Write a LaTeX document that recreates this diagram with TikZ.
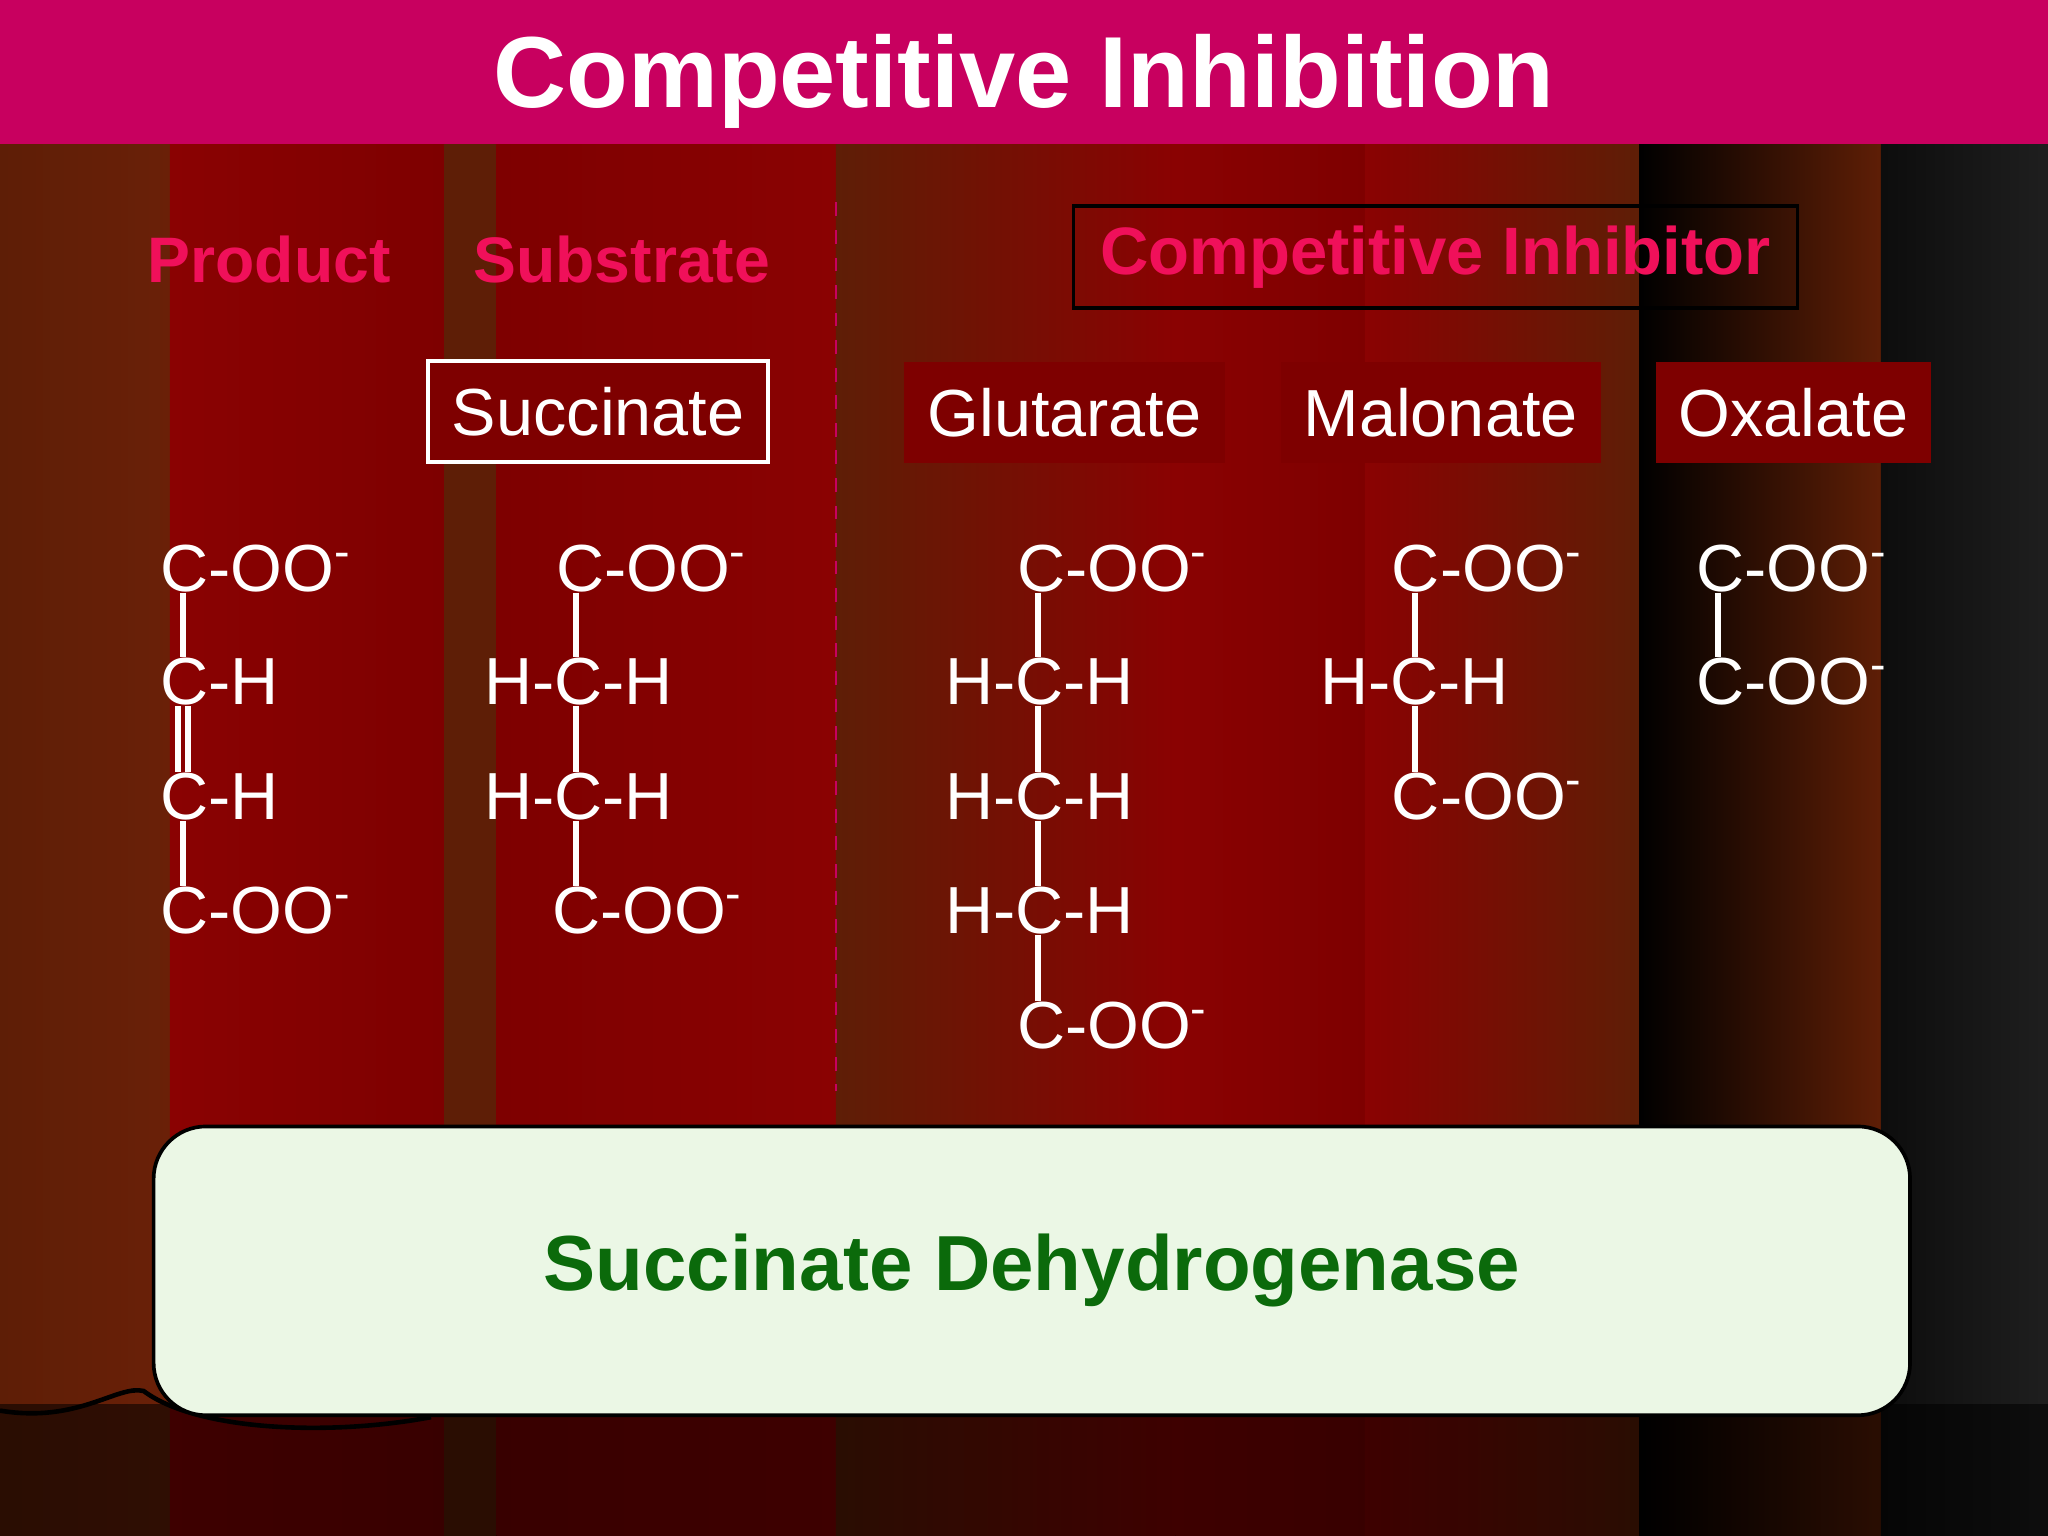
\documentclass[tikz,border=0pt]{standalone}
\usepackage{fontspec}
\setmainfont{Liberation Sans}
\usetikzlibrary{calc}
\definecolor{magbar}{HTML}{C8005F}
\definecolor{pinkt}{HTML}{F0105A}
\definecolor{dred}{HTML}{7E0000}
\definecolor{brn}{HTML}{5E1E06}
\definecolor{brn2}{HTML}{6A2008}
\definecolor{rd}{HTML}{8A0202}
\definecolor{pale}{HTML}{EBF7E5}
\definecolor{egreen}{HTML}{0B6A0B}
\tikzset{
 chem/.style={anchor=west,inner sep=0pt,text=white,font=\fontsize{14.5}{16}\selectfont},
 bond/.style={white,line width=1.3pt},
 lbl/.style={fill=dred,text=white,font=\fontsize{14.5}{16}\selectfont,minimum height=0.77cm,inner xsep=5pt},
 head/.style={text=pinkt,font=\bfseries\fontsize{14}{16}\selectfont},
}
\newcommand{\coo}{C-OO\textsuperscript{-}}
\begin{document}
\begin{tikzpicture}[x=0.01cm,y=-0.01cm]
\useasboundingbox (0,0) rectangle (1568,1176);
% curtain stripes
\fill[left color=brn,right color=brn2] (0,110) rectangle (130,1176);
\fill[left color=rd,right color=dred] (130,110) rectangle (340,1176);
\fill[brn] (340,110) rectangle (380,1176);
\fill[left color=dred,right color=rd] (380,110) rectangle (640,1176);
\fill[left color=brn,right color=rd] (640,110) rectangle (900,1176);
\fill[left color=rd,right color=dred] (900,110) rectangle (1045,1176);
\fill[left color=rd,right color=brn] (1045,110) rectangle (1255,1176);
\fill[left color=black,right color=brn] (1255,110) rectangle (1440,1176);
\fill[left color=black!95,right color=black!88] (1440,110) rectangle (1568,1176);
\fill[black,opacity=0.55] (0,1075) rectangle (1568,1176);
\draw[black,line width=1pt] (0,1080) .. controls (60,1090) and (90,1060) .. (110,1065) .. controls (150,1095) and (250,1100) .. (330,1085);
% title
\fill[magbar] (0,0) rectangle (1568,110);
\node[text=white,font=\bfseries\fontsize{22}{24}\selectfont] (title) at (784,62) {Competitive Inhibition};
% headings
\node[head] (prod) at (206,199) {Product};
\node[head] (subs) at (476,199) {Substrate};
\node[head,font=\bfseries\fontsize{14.6}{16}\selectfont,draw=black,thick,minimum width=5.54cm,minimum height=0.78cm] (ci) at (1099,197) {Competitive Inhibitor};
\draw[magbar,dashed,thin] (640,155) -- (640,835);
% labels
\node[lbl,draw=white,thick,minimum width=2.6cm] (succ) at (458,315) {Succinate};
\node[lbl,minimum width=2.46cm] (glut) at (815,316) {Glutarate};
\node[lbl,minimum width=2.45cm] (malo) at (1103,316) {Malonate};
\node[lbl,minimum width=2.1cm] (oxa) at (1373,316) {Oxalate};
% product
\node[chem] (p1) at (122,435) {\coo};
\node[chem] (p2) at (122,522) {C-H};
\node[chem] (p3) at (122,610) {C-H};
\node[chem] (p4) at (122,697) {\coo};
\coordinate (px) at (140,0);
\draw[bond] (p1.south -| px) -- (p2.north -| px);
\draw[bond] ($(p2.south -| px)+(-4,0)$) -- ($(p3.north -| px)+(-4,0)$);
\draw[bond] ($(p2.south -| px)+(4,0)$) -- ($(p3.north -| px)+(4,0)$);
\draw[bond] (p3.south -| px) -- (p4.north -| px);
% substrate
\node[chem] (s1) at (425,435) {\coo};
\node[chem] (s2) at (370,522) {H-C-H};
\node[chem] (s3) at (370,610) {H-C-H};
\node[chem] (s4) at (422,697) {\coo};
\coordinate (sx) at (441,0);
\draw[bond] (s1.south -| sx) -- (s2.north -| sx);
\draw[bond] (s2.south -| sx) -- (s3.north -| sx);
\draw[bond] (s3.south -| sx) -- (s4.north -| sx);
% glutarate
\node[chem] (g1) at (778,435) {\coo};
\node[chem] (g2) at (723,522) {H-C-H};
\node[chem] (g3) at (723,610) {H-C-H};
\node[chem] (g4) at (723,697) {H-C-H};
\node[chem] (g5) at (778,785) {\coo};
\coordinate (gx) at (795,0);
\draw[bond] (g1.south -| gx) -- (g2.north -| gx);
\draw[bond] (g2.south -| gx) -- (g3.north -| gx);
\draw[bond] (g3.south -| gx) -- (g4.north -| gx);
\draw[bond] (g4.south -| gx) -- (g5.north -| gx);
% malonate
\node[chem] (m1) at (1065,435) {\coo};
\node[chem] (m2) at (1010,522) {H-C-H};
\node[chem] (m3) at (1065,610) {\coo};
\coordinate (mx) at (1083,0);
\draw[bond] (m1.south -| mx) -- (m2.north -| mx);
\draw[bond] (m2.south -| mx) -- (m3.north -| mx);
% oxalate
\node[chem] (o1) at (1298,435) {\coo};
\node[chem] (o2) at (1298,522) {\coo};
\coordinate (ox) at (1315,0);
\draw[bond] (o1.south -| ox) -- (o2.north -| ox);
% enzyme
\node[draw=black,thick,fill=pale,rounded corners=0.4cm,minimum width=13.44cm,minimum height=2.21cm,text=egreen,font=\bfseries\fontsize{17}{19}\selectfont] (enz) at (790,973) {\raisebox{-0.8ex}{Succinate Dehydrogenase}};
\end{tikzpicture}
\end{document}
